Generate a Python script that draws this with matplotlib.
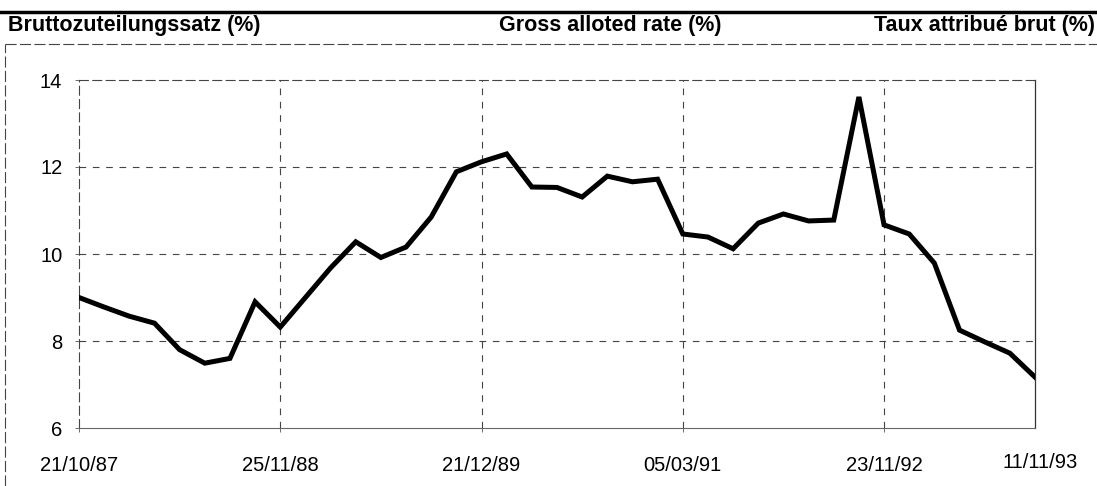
import matplotlib
matplotlib.use("Agg")
import matplotlib.pyplot as plt
from matplotlib.lines import Line2D

plt.rcParams['font.family'] = ['Liberation Sans', 'DejaVu Sans']

# gross alloted rate, one value per tender (category axis)
rate = [9.0, 8.78, 8.57, 8.41, 7.8, 7.49, 7.6, 8.9, 8.32,
        9.0, 9.68, 10.28, 9.92, 10.16, 10.85, 11.89, 12.12, 12.3,
        11.54, 11.53, 11.31, 11.79, 11.66, 11.72, 10.46, 10.39, 10.12,
        10.71, 10.92, 10.76, 10.78, 13.61, 10.67, 10.46, 9.79, 8.25,
        7.98, 7.72, 7.17]
tick_pos = [0, 8, 16, 24, 32]
tick_labels = ['21/10/87', '25/11/88', '21/12/89', '05/03/91', '23/11/92']
last_label = '11/11/93'
y_ticks = [6, 8, 10, 12, 14]

W, H = 1097, 486
fig = plt.figure(figsize=(W / 100, H / 100), dpi=100)

# plot area in pixels: x 79..1035, y 80..428
ax = fig.add_axes([79 / W, 1 - 428 / H, (1035 - 79) / W, (428 - 80) / H])
x = list(range(len(rate)))
ax.plot(x, rate, color='black', lw=3.6, solid_joinstyle='miter', zorder=3)
ax.set_xlim(0, len(rate) - 1)
ax.set_ylim(6, 14)

ax.set_yticks(y_ticks)
ax.set_yticklabels([str(v) for v in y_ticks], fontsize=14.5)
ax.set_xticks(tick_pos)
ax.set_xticklabels(tick_labels, fontsize=14.5)
ax.tick_params(axis='both', length=3, width=0.6, color='#555555')
ax.tick_params(axis='x', pad=17)
ax.tick_params(axis='y', pad=9)

for v in y_ticks[1:-1]:
    ax.axhline(v, color='#444444', lw=0.8, ls=(0, (6, 6)), zorder=1)
for p in tick_pos[1:]:
    ax.axvline(p, color='#444444', lw=0.8, ls=(0, (6, 6)), zorder=1)

for side in ['top', 'left']:
    ax.spines[side].set_linestyle((0, (8, 4)))
    ax.spines[side].set_color('#444444')
    ax.spines[side].set_linewidth(0.8)
ax.spines['bottom'].set_color('#666666')
ax.spines['bottom'].set_linewidth(0.8)
ax.spines['right'].set_color('#333333')
ax.spines['right'].set_linewidth(0.9)

ax.text(1.005, -0.10, last_label, transform=ax.transAxes, ha='center',
        va='center', fontsize=14.5)

# headers
fig.text(8 / W, 1 - 26 / H, 'Bruttozuteilungssatz (%)', fontsize=15.5,
         fontweight='bold', ha='left', va='center')
fig.text(610 / W, 1 - 26 / H, 'Gross alloted rate (%)', fontsize=15.5,
         fontweight='bold', ha='center', va='center')
fig.text(1095 / W, 1 - 26 / H, 'Taux attribué brut (%)', fontsize=15.5,
         fontweight='bold', ha='right', va='center')

# page frame lines
fig.add_artist(Line2D([0, 1], [1 - 12 / H, 1 - 12 / H], color='black', lw=2.5))
fig.add_artist(Line2D([5 / W, 1], [1 - 44 / H, 1 - 44 / H], color='#444444',
                      lw=0.8, ls=(0, (10, 3))))
fig.add_artist(Line2D([5 / W, 5 / W], [0, 1 - 44 / H], color='#444444',
                      lw=0.8, ls=(0, (10, 3))))

fig.savefig('out.png', dpi=100)
